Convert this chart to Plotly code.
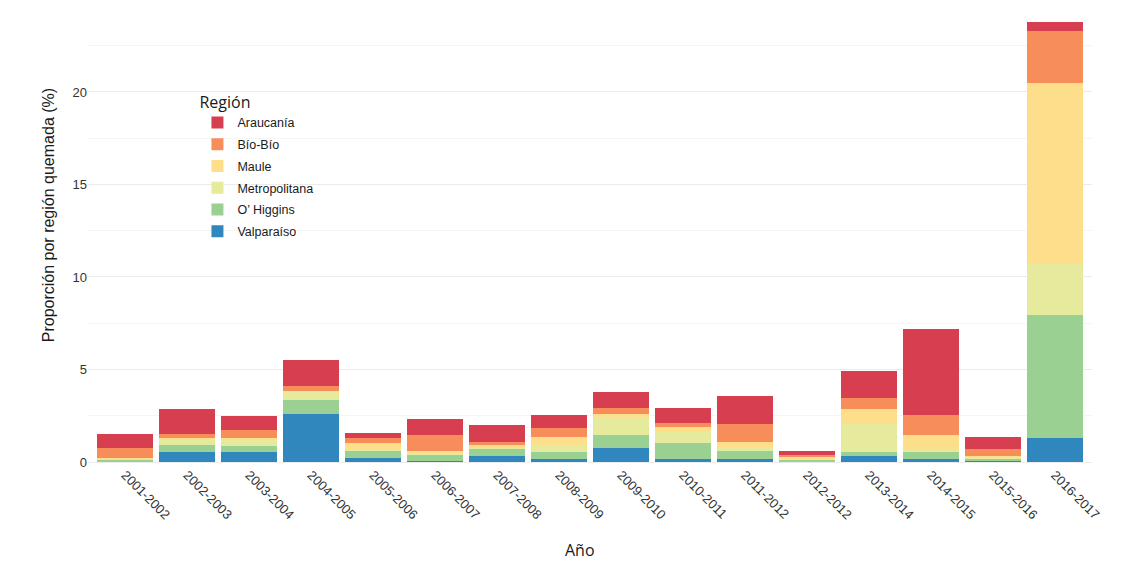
import plotly.graph_objects as go

years = ["2001-2002", "2002-2003", "2003-2004", "2004-2005", "2005-2006", "2006-2007",
         "2007-2008", "2008-2009", "2009-2010", "2010-2011", "2011-2012", "2012-2012",
         "2013-2014", "2014-2015", "2015-2016", "2016-2017"]

valparaiso    = [0.00, 0.56, 0.56, 2.59, 0.23, 0.05, 0.34, 0.16, 0.77, 0.16, 0.14, 0.05, 0.34, 0.16, 0.07, 1.28]
ohiggins      = [0.13, 0.34, 0.30, 0.76, 0.35, 0.33, 0.38, 0.40, 0.71, 0.89, 0.47, 0.08, 0.20, 0.38, 0.13, 6.65]
metropolitana = [0.04, 0.29, 0.37, 0.47, 0.11, 0.03, 0.05, 0.34, 0.93, 0.55, 0.22, 0.07, 1.55, 0.11, 0.09, 2.81]
maule         = [0.05, 0.11, 0.05, 0.04, 0.36, 0.19, 0.15, 0.47, 0.17, 0.31, 0.27, 0.09, 0.77, 0.79, 0.05, 9.75]
biobio        = [0.52, 0.21, 0.45, 0.27, 0.23, 0.87, 0.18, 0.49, 0.34, 0.18, 0.95, 0.09, 0.60, 1.08, 0.36, 2.81]
araucania     = [0.76, 1.35, 0.76, 1.38, 0.27, 0.85, 0.88, 0.70, 0.86, 0.85, 1.52, 0.21, 1.44, 4.65, 0.65, 0.48]

series = [
    ("Valparaíso", valparaiso, "#2F87BE"),
    ("O’ Higgins", ohiggins, "#9BD093"),
    ("Metropolitana", metropolitana, "#E6EA9C"),
    ("Maule", maule, "#FDDF8B"),
    ("Bío-Bío", biobio, "#F78D5B"),
    ("Araucanía", araucania, "#D73F51"),
]

FONT = "Liberation Sans, Arial, sans-serif"
TFONT = "Open Sans, Liberation Sans, sans-serif"

fig = go.Figure()
n = len(series)
for i, (name, vals, col) in enumerate(series):
    fig.add_trace(go.Bar(
        x=years, y=vals, name=name, legendgroup=name, legendrank=1000 + (n - i),
        marker=dict(color=col, line=dict(width=0)),
    ))

# plot area (figure px): x 80..1084, y 2..456
fig.update_layout(
    width=1126, height=569,
    barmode="stack", bargap=0.1,
    plot_bgcolor="white", paper_bgcolor="white",
    margin=dict(l=80, r=42, t=2, b=113),
    font=dict(family=FONT, size=13, color="#333333"),
    showlegend=True,
    legend=dict(
        title=dict(text="Región", font=dict(size=16, color="#1A1A1A", family=TFONT)),
        traceorder="grouped",
        x=0.109, y=0.830, xanchor="left", yanchor="top",
        font=dict(size=12.5, color="#1A1A1A"),
        tracegroupgap=2.5,
        bgcolor="rgba(0,0,0,0)",
    ),
    xaxis=dict(
        type="category", categoryorder="array", categoryarray=years,
        range=[-0.6, 15.6], tickangle=45, showgrid=False, zeroline=False,
        showline=False, ticks="", tickfont=dict(size=13, color="#333333"),
        automargin=False,
    ),
    yaxis=dict(
        range=[-0.108, 24.43], tick0=0, dtick=5, showgrid=True, gridcolor="#EBEBEB",
        gridwidth=1, zeroline=False, showline=False, ticks="",
        tickfont=dict(size=13, color="#333333"), automargin=False,
        minor=dict(dtick=2.5, tick0=0, showgrid=True, gridcolor="#F5F5F5", gridwidth=1),
    ),
    annotations=[
        dict(text="Año", xref="paper", yref="paper", x=0.49, y=-0.189,
             xanchor="center", yanchor="middle", showarrow=False,
             font=dict(size=16, color="#1A1A1A", family=TFONT)),
        dict(text="Proporción por región quemada (%)", xref="paper", yref="paper",
             x=-0.0398, y=0.548, textangle=-90,
             xanchor="center", yanchor="middle", showarrow=False,
             font=dict(size=16, color="#1A1A1A", family=FONT)),
    ],
)

fig.write_html("out.html")
